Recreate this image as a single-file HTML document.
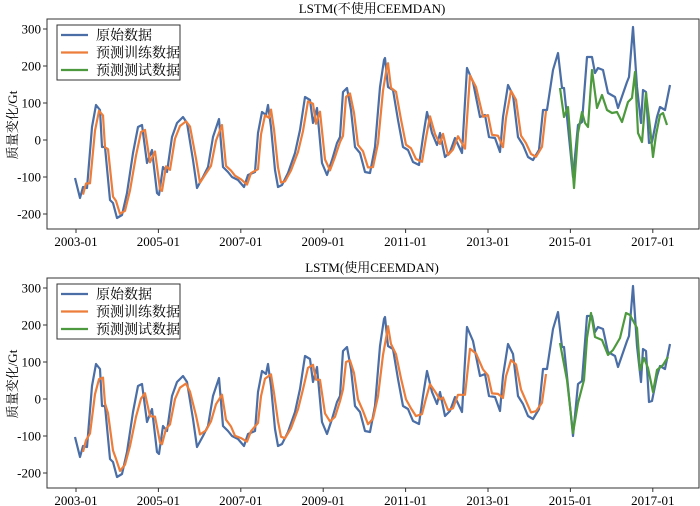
<!DOCTYPE html>
<html><head><meta charset="utf-8"><style>
html,body{margin:0;padding:0;background:#fff;}
svg{display:block;font-family:"Liberation Serif","Noto Serif CJK SC",serif;}
</style></head><body>
<svg id="s" width="700" height="506" viewBox="0 0 700 506" xmlns="http://www.w3.org/2000/svg"></svg>
<script>
const B=[[75,178],[80,198],[83,187],[87,188],[92,127],[96,105],[100,110],[102,147],[105,147],[110,200],[113,203],[117,218],[122,215],[127,193],[133,153],[138,127],[142,125],[147,163],[152,150],[157,193],[159,195],[163,167],[167,172],[172,137],[177,123],[183,117],[187,123],[193,160],[197,188],[203,177],[208,167],[213,137],[219,119],[223,167],[228,172],[232,177],[238,180],[244,187],[248,175],[255,172],[258,133],[262,112],[266,115],[268,105],[271,127],[275,170],[278,187],[282,185],[288,173],[295,153],[300,130],[305,97],[310,100],[313,123],[317,108],[322,163],[327,175],[332,160],[337,143],[340,137],[343,92],[347,88],[351,110],[355,147],[360,153],[365,172],[370,173],[375,147],[380,87],[384,60],[385,58],[388,87],[393,90],[398,120],[403,147],[408,150],[413,162],[419,165],[423,137],[427,112],[432,133],[437,145],[440,133],[445,157],[450,152],[455,138],[462,153],[467,68],[473,82],[480,117],[485,115],[489,137],[495,138],[500,152],[503,117],[508,85],[513,95],[518,137],[523,145],[528,157],[533,160],[539,150],[543,110],[547,110],[553,70],[558,53],[562,88],[564,88],[567,117],[570,147],[573,177],[578,125],[582,122],[587,57],[592,57],[595,73],[598,68],[603,70],[608,93],[615,97],[618,108],[627,82],[629,77],[633,27],[637,87],[641,123],[643,90],[646,92],[649,143],[652,142],[657,117],[660,107],[665,110],[670,85]];
const GT=[[560,88],[564,117],[568,107],[570,133],[574,188],[578,133],[582,112],[585,123],[588,127],[592,70],[597,108],[602,95],[607,110],[612,113],[617,112],[622,122],[628,102],[632,98],[635,72],[638,133],[642,142],[646,93],[650,127],[653,157],[656,135],[660,115],[663,113],[667,125]];
const GB=[[560,343],[567,380],[573,433],[578,403],[584,380],[587,338],[591,313],[595,337],[602,340],[608,355],[613,350],[620,338],[626,313],[630,315],[637,328],[640,370],[644,358],[648,368],[653,392],[657,370],[663,365],[668,357]];
function ma(i,k){let s=0,n=0;for(let j=i-k;j<=i+k;j++){if(j>=0&&j<B.length){s+=B[j][1];n++;}}return s/n;}
const OT=[],OB=[];
B.forEach((p,i)=>{const x=p[0]+3;if(x<79||x>548)return;OT.push([x,p[1]+0.15*(ma(i,3)-p[1])]);OB.push([x,0.5*p[1]+0.5*ma(i,2)+259]);});
const pl=(pts,c,dy=0)=>`<polyline fill="none" stroke="${c}" stroke-width="2.2" stroke-linejoin="round" points="${pts.map(p=>p[0]+','+(p[1]+dy)).join(' ')}"/>`;
let h='';
function axes(top,title,blue,orange,green){
 const bot=top+210;
 h+=`<text x="372" y="${top-6}" font-size="13" text-anchor="middle">${title}</text>`;
 h+=`<rect x="47" y="${top}" width="652" height="210" fill="none" stroke="#333" stroke-width="1"/>`;
 const y0=top+121;
 [300,200,100,0,-100,-200].forEach(v=>{const y=y0-v*0.37;h+=`<line x1="43" x2="47" y1="${y}" y2="${y}" stroke="#333"/><text x="41" y="${y+4.5}" font-size="13" text-anchor="end">${v}</text>`;});
 ['2003-01','2005-01','2007-01','2009-01','2011-01','2013-01','2015-01','2017-01'].forEach((t,i)=>{const x=76+i*82.4;h+=`<line x1="${x}" x2="${x}" y1="${bot}" y2="${bot+4}" stroke="#333"/><text x="${x}" y="${bot+17}" font-size="13" text-anchor="middle">${t}</text>`;});
 h+=`<text transform="translate(17,${top+106}) rotate(-90)" font-size="13" text-anchor="middle">质量变化/Gt</text>`;
 h+=blue+orange+green;
 h+=`<rect x="57" y="${top+6}" width="123" height="55" fill="#fff" stroke="#333" stroke-width="1"/>`;
 [['原始数据','#4a6ea5'],['预测训练数据','#ed7d3a'],['预测测试数据','#4d9a3e']].forEach((e,i)=>{const y=top+16+i*17.5;h+=`<line x1="61" x2="88" y1="${y}" y2="${y}" stroke="${e[1]}" stroke-width="2.2"/><text x="96" y="${y+5}" font-size="14">${e[0]}</text>`;});
}
axes(19,'LSTM(不使用CEEMDAN)',pl(B,'#4a6ea5'),pl(OT,'#ed7d3a'),pl(GT,'#4d9a3e'));
axes(278,'LSTM(使用CEEMDAN)',pl(B,'#4a6ea5',259),pl(OB,'#ed7d3a'),pl(GB,'#4d9a3e'));
document.getElementById('s').innerHTML=h;
</script>
</body></html>
